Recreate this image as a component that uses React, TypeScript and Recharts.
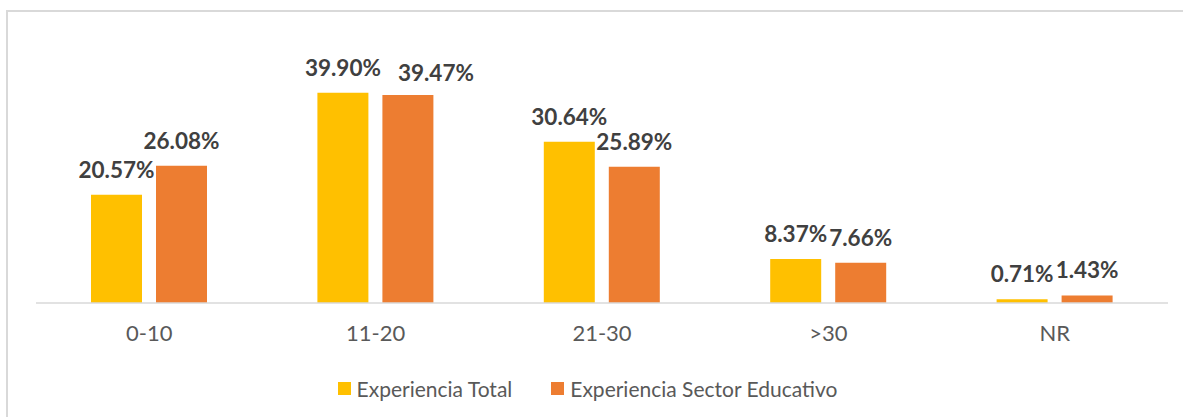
import React from "react";
import { BarChart, Bar, XAxis, YAxis, Legend, LabelList } from "recharts";

const categories = ["0-10", "11-20", "21-30", ">30", "NR"];
const experienciaTotal = [20.57, 39.9, 30.64, 8.37, 0.71];
const experienciaSector = [26.08, 39.47, 25.89, 7.66, 1.43];
const seriesNames = ["Experiencia Total", "Experiencia Sector Educativo"];
const seriesColors = ["#FFC000", "#ED7D31"];

const data = categories.map((c, i) => ({
  cat: c,
  total: experienciaTotal[i],
  sector: experienciaSector[i],
}));

const FONT = "Lato, 'Open Sans', sans-serif";

const fmt = (v: any) => `${Number(v).toFixed(2)}%`;

const labelStyle = { fill: "#404040", fontSize: 22.5, fontWeight: 700, fontFamily: FONT };

// Custom label: the sector label of the tallest group is nudged right/down like the original
const makeLabel = (nudge: boolean) => (props: any) => {
  const { x, y, width, value, index } = props;
  const shift = nudge && index === 1;
  const cx = Number(x) + Number(width) / 2 + (shift ? 28 : 0);
  const cy = Number(y) - (shift ? 14 : 17);
  return (
    <text x={cx} y={cy} textAnchor="middle" style={labelStyle}>
      {fmt(value)}
    </text>
  );
};

const LegendContent = () => (
  <div
    style={{
      display: "flex",
      justifyContent: "center",
      alignItems: "center",
      paddingTop: 29,
      marginLeft: -8,
      fontFamily: FONT,
      fontSize: 21,
      color: "#595959",
    }}
  >
    {seriesNames.map((n, i) => (
      <div
        key={n}
        style={{ display: "flex", alignItems: "center", marginLeft: i === 0 ? 0 : 39 }}
      >
        <span
          style={{
            display: "inline-block",
            width: 13,
            height: 13,
            background: seriesColors[i],
            marginRight: 6,
          }}
        />
        <span>{n}</span>
      </div>
    ))}
  </div>
);

export default function App() {
  return (
    <div
      style={{
        position: "absolute",
        left: 0,
        top: 0,
        width: 1183,
        height: 417,
        overflow: "hidden",
        background: "#fff",
      }}
    >
      <div
        style={{
          position: "absolute",
          left: 6,
          top: 10,
          width: 2000,
          height: 1000,
          borderTop: "2px solid #D9D9D9",
          borderLeft: "2px solid #D9D9D9",
        }}
      />
      <div style={{ position: "absolute", left: 0, top: 0 }}>
        <BarChart
          width={1183}
          height={417}
          data={data}
          margin={{ top: 66, right: 15, left: 36, bottom: 0 }}
          barCategoryGap={55}
          barGap={14}
        >
          <XAxis
            dataKey="cat"
            height={44}
            tickLine={false}
            tickMargin={16}
            axisLine={{ stroke: "#D9D9D9", strokeWidth: 1.5 }}
            tick={{ fill: "#595959", fontSize: 22, fontFamily: FONT }}
          />
          <YAxis hide domain={[0, 45]} />
          <Legend
            verticalAlign="bottom"
            content={<LegendContent />}
            wrapperStyle={{ left: 0, width: 1183, height: 70, bottom: 0 }}
          />
          <Bar dataKey="total" name={seriesNames[0]} fill={seriesColors[0]} barSize={51} isAnimationActive={false}>
            <LabelList dataKey="total" content={makeLabel(false)} />
          </Bar>
          <Bar dataKey="sector" name={seriesNames[1]} fill={seriesColors[1]} barSize={51} isAnimationActive={false}>
            <LabelList dataKey="sector" content={makeLabel(true)} />
          </Bar>
        </BarChart>
      </div>
    </div>
  );
}
